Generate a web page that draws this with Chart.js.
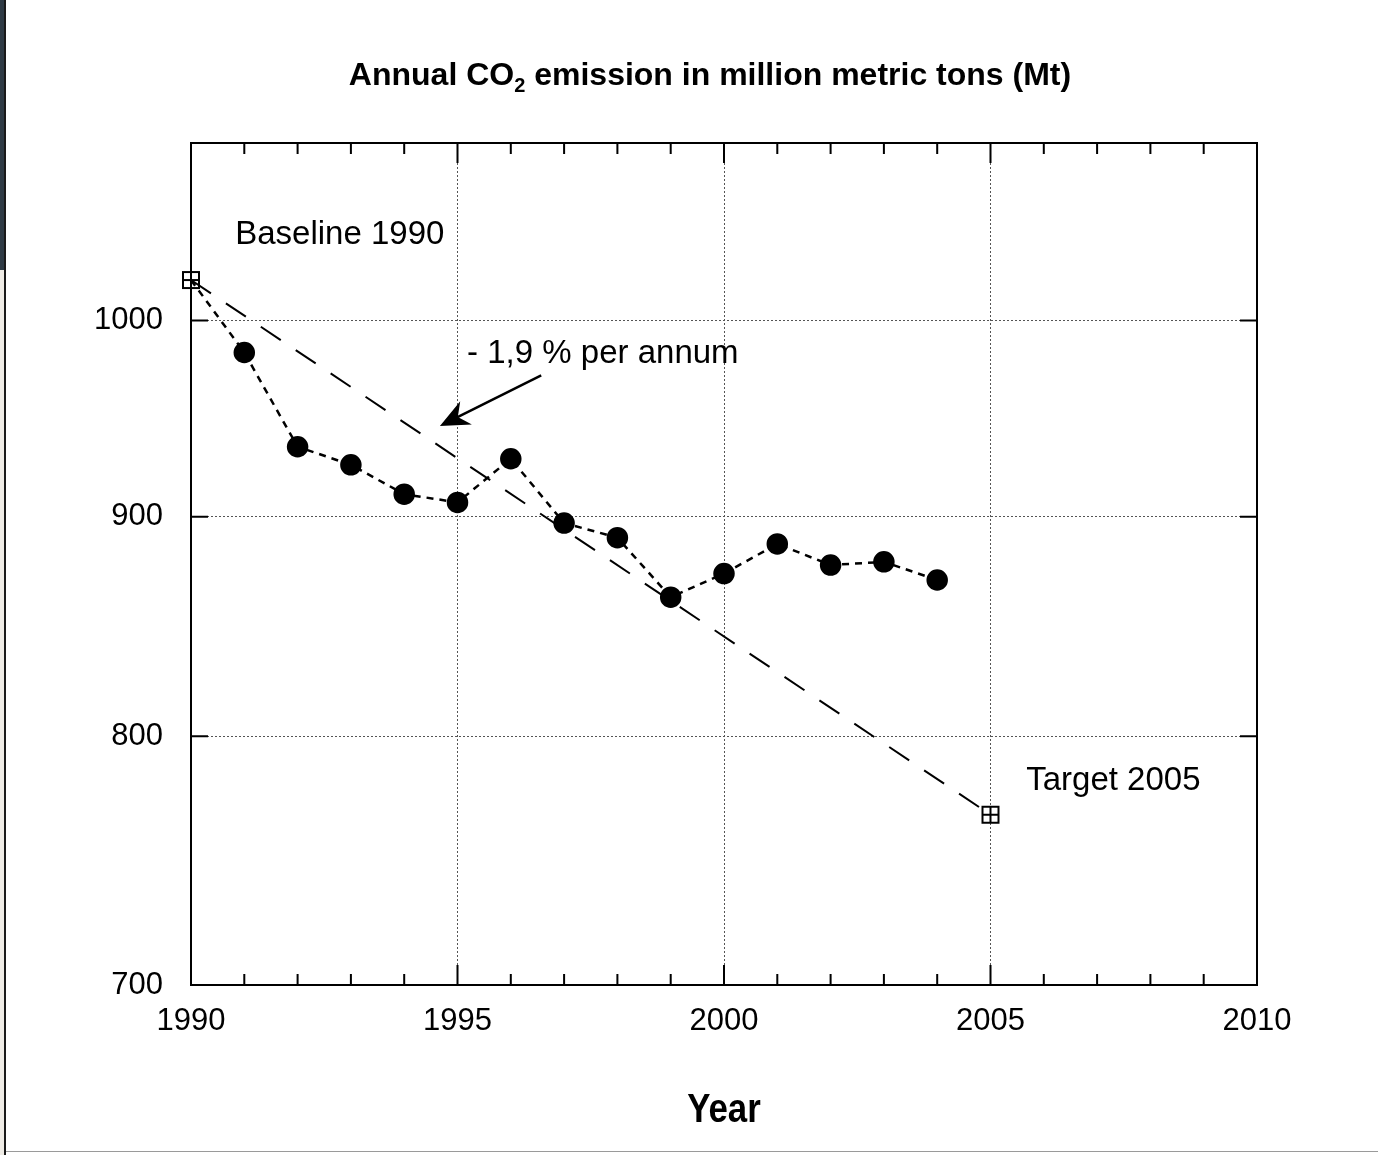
<!DOCTYPE html>
<html>
<head>
<title>Annual CO2 emission in million metric tons (Mt)</title>
<script src="https://cdn.jsdelivr.net/npm/chart.js"></script>
<style>
    html, body {
        margin: 0;
        padding: 0;
        background: #fff;
    }
    .wrap {
        position: relative;
        width: 1378px;
        height: 1155px;
        overflow: hidden;
    }
    canvas {
        position: absolute;
        left: 0;
        top: 0;
    }
    .edge-top { position: absolute; left: 0; top: 0; width: 4px; height: 270px; background: #2f3b45; }
    .edge-low { position: absolute; left: 0; top: 270px; width: 4px; height: 885px; background: #efece6; }
    .edge-line { position: absolute; left: 4px; top: 0; width: 2px; height: 1155px; background: #1a1a1a; }
    .bottom-line { position: absolute; left: 6px; top: 1151px; width: 1372px; height: 1px; background: #9a9a9a; }
</style>
</head>
<body>
<div class="wrap">
    <canvas id="co2Chart" width="1378" height="1155"></canvas>
    <div class="edge-top"></div>
    <div class="edge-low"></div>
    <div class="edge-line"></div>
    <div class="bottom-line"></div>
</div>

<script>
    // Data
    const years = [1990, 1991, 1992, 1993, 1994, 1995, 1996, 1997, 1998, 1999, 2000, 2001, 2002, 2003, 2004];
    const emissions = [1022, 983, 934.5, 925.5, 911, 907, 928.5, 897, 890, 862, 873, 887, 877, 878.5, 870];

    const targetYears = [1990, 2005];
    const targetValues = [1022, 767];

    const yTicks = [700, 800, 900, 1000];
    const xTicks = [1990, 1995, 2000, 2005, 2010];

    // text notes, placed in data coordinates
    const noteTexts = ['Baseline 1990', '- 1,9 % per annum', 'Target 2005'];
    const noteX = [1990.83, 1995.18, 2005.67];
    const noteY = [1047, 982, 781];

    // arrow from the "per annum" note to the target line
    const arrowFrom = [1996.57, 971];
    const arrowTo = [1994.67, 945];

    const FONT = "'Liberation Sans', Arial, sans-serif";

    // square with a plus inside, like the baseline / target markers
    function makeBoxPlus() {
        const c = document.createElement('canvas');
        c.width = 20; c.height = 20;
        const g = c.getContext('2d');
        g.strokeStyle = '#000';
        g.lineWidth = 2;
        g.strokeRect(2, 2, 16, 16);
        g.beginPath();
        g.moveTo(10, 2); g.lineTo(10, 18);
        g.moveTo(2, 10); g.lineTo(18, 10);
        g.stroke();
        return c;
    }
    const boxPlus = makeBoxPlus();

    const framePlugin = {
        id: 'frame',
        afterDatasetsDraw(chart) {
            const { ctx, chartArea: a, scales: { x, y } } = chart;
            ctx.save();
            ctx.strokeStyle = '#000';
            ctx.lineWidth = 2;
            ctx.beginPath();
            // inward year ticks, longer at labelled years
            for (let yr = 1991; yr < 2010; yr++) {
                const px = x.getPixelForValue(yr);
                const len = yr % 5 === 0 ? 20 : 11;
                ctx.moveTo(px, a.bottom); ctx.lineTo(px, a.bottom - len);
                ctx.moveTo(px, a.top); ctx.lineTo(px, a.top + len);
            }
            yTicks.forEach(v => {
                const py = y.getPixelForValue(v);
                ctx.moveTo(a.left, py); ctx.lineTo(a.left + 17, py);
                ctx.moveTo(a.right, py); ctx.lineTo(a.right - 17, py);
            });
            ctx.stroke();
            ctx.strokeRect(a.left, a.top, a.right - a.left, a.bottom - a.top);
            ctx.restore();
        },
        afterDraw(chart) {
            const { ctx, chartArea: a, scales: { x, y } } = chart;
            ctx.save();
            ctx.fillStyle = '#000';
            ctx.strokeStyle = '#000';

            // notes
            ctx.font = '33px ' + FONT;
            ctx.textAlign = 'left';
            ctx.textBaseline = 'middle';
            noteTexts.forEach((t, i) => {
                ctx.fillText(t, x.getPixelForValue(noteX[i]), y.getPixelForValue(noteY[i]));
            });

            // arrow
            const x1 = x.getPixelForValue(arrowFrom[0]), y1 = y.getPixelForValue(arrowFrom[1]);
            const x2 = x.getPixelForValue(arrowTo[0]), y2 = y.getPixelForValue(arrowTo[1]);
            const ang = Math.atan2(y2 - y1, x2 - x1);
            const head = 32, spread = 0.42;
            ctx.lineWidth = 2.5;
            ctx.beginPath();
            ctx.moveTo(x1, y1);
            ctx.lineTo(x2 - Math.cos(ang) * 18, y2 - Math.sin(ang) * 18);
            ctx.stroke();
            ctx.beginPath();
            ctx.moveTo(x2, y2);
            ctx.lineTo(x2 - head * Math.cos(ang - spread), y2 - head * Math.sin(ang - spread));
            ctx.lineTo(x2 - 20 * Math.cos(ang), y2 - 20 * Math.sin(ang));
            ctx.lineTo(x2 - head * Math.cos(ang + spread), y2 - head * Math.sin(ang + spread));
            ctx.closePath();
            ctx.fill();

            // title with subscript
            const cx = 710, base = 85;
            ctx.textBaseline = 'alphabetic';
            const big = 'bold 32px ' + FONT, small = 'bold 20px ' + FONT;
            const p1 = 'Annual CO', p2 = '2', p3 = ' emission in million metric tons (Mt)';
            ctx.font = big;
            const w1 = ctx.measureText(p1).width, w3 = ctx.measureText(p3).width;
            ctx.font = small;
            const w2 = ctx.measureText(p2).width;
            let sx = cx - (w1 + w2 + w3) / 2;
            ctx.font = big;
            ctx.fillText(p1, sx, base);
            ctx.font = small;
            ctx.fillText(p2, sx + w1, base + 7);
            ctx.font = big;
            ctx.fillText(p3, sx + w1 + w2, base);

            // axis title
            ctx.save();
            ctx.translate((a.left + a.right) / 2, 1122);
            ctx.scale(0.87, 1);
            ctx.font = 'bold 40px ' + FONT;
            ctx.textAlign = 'center';
            ctx.fillText('Year', 0, 0);
            ctx.restore();

            ctx.restore();
        }
    };

    const ctx = document.getElementById('co2Chart').getContext('2d');
    const co2Chart = new Chart(ctx, {
        type: 'line',
        data: {
            datasets: [
                {
                    label: 'Emission',
                    data: years.map((yr, i) => ({ x: yr, y: emissions[i] })),
                    borderColor: '#000',
                    borderWidth: 2.5,
                    borderDash: [7, 6],
                    backgroundColor: '#000',
                    pointBackgroundColor: '#000',
                    pointBorderColor: '#000',
                    pointRadius: years.map((yr, i) => i === 0 ? 0 : 9.5),
                    pointHoverRadius: 9.5,
                    tension: 0,
                    fill: false,
                    clip: false
                },
                {
                    label: 'Target',
                    data: targetYears.map((yr, i) => ({ x: yr, y: targetValues[i] })),
                    borderColor: '#000',
                    borderWidth: 2,
                    borderDash: [24, 18],
                    pointStyle: boxPlus,
                    pointRadius: 10,
                    tension: 0,
                    fill: false,
                    clip: false
                }
            ]
        },
        options: {
            responsive: false,
            animation: false,
            events: [],
            layout: {
                padding: { left: 0, right: 121, top: 143, bottom: 0 }
            },
            plugins: {
                legend: { display: false },
                tooltip: { enabled: false }
            },
            scales: {
                x: {
                    type: 'linear',
                    min: 1990,
                    max: 2010,
                    afterFit: s => { s.height = 170; },
                    afterBuildTicks: s => { s.ticks = xTicks.map(v => ({ value: v })); },
                    ticks: {
                        padding: 18,
                        color: '#000',
                        font: { family: FONT, size: 31 },
                        maxRotation: 0,
                        callback: v => String(v)
                    },
                    grid: {
                        color: '#555',
                        lineWidth: 1,
                        drawTicks: false
                    },
                    border: { display: false, dash: [2, 2] }
                },
                y: {
                    type: 'logarithmic',
                    min: 700,
                    max: 1100,
                    afterFit: s => { s.width = 191; },
                    afterBuildTicks: s => { s.ticks = yTicks.map(v => ({ value: v })); },
                    ticks: {
                        padding: 28,
                        color: '#000',
                        font: { family: FONT, size: 31 },
                        callback: v => String(v)
                    },
                    grid: {
                        color: '#555',
                        lineWidth: 1,
                        drawTicks: false
                    },
                    border: { display: false, dash: [2, 2] }
                }
            }
        },
        plugins: [framePlugin]
    });
</script>
</body>
</html>
